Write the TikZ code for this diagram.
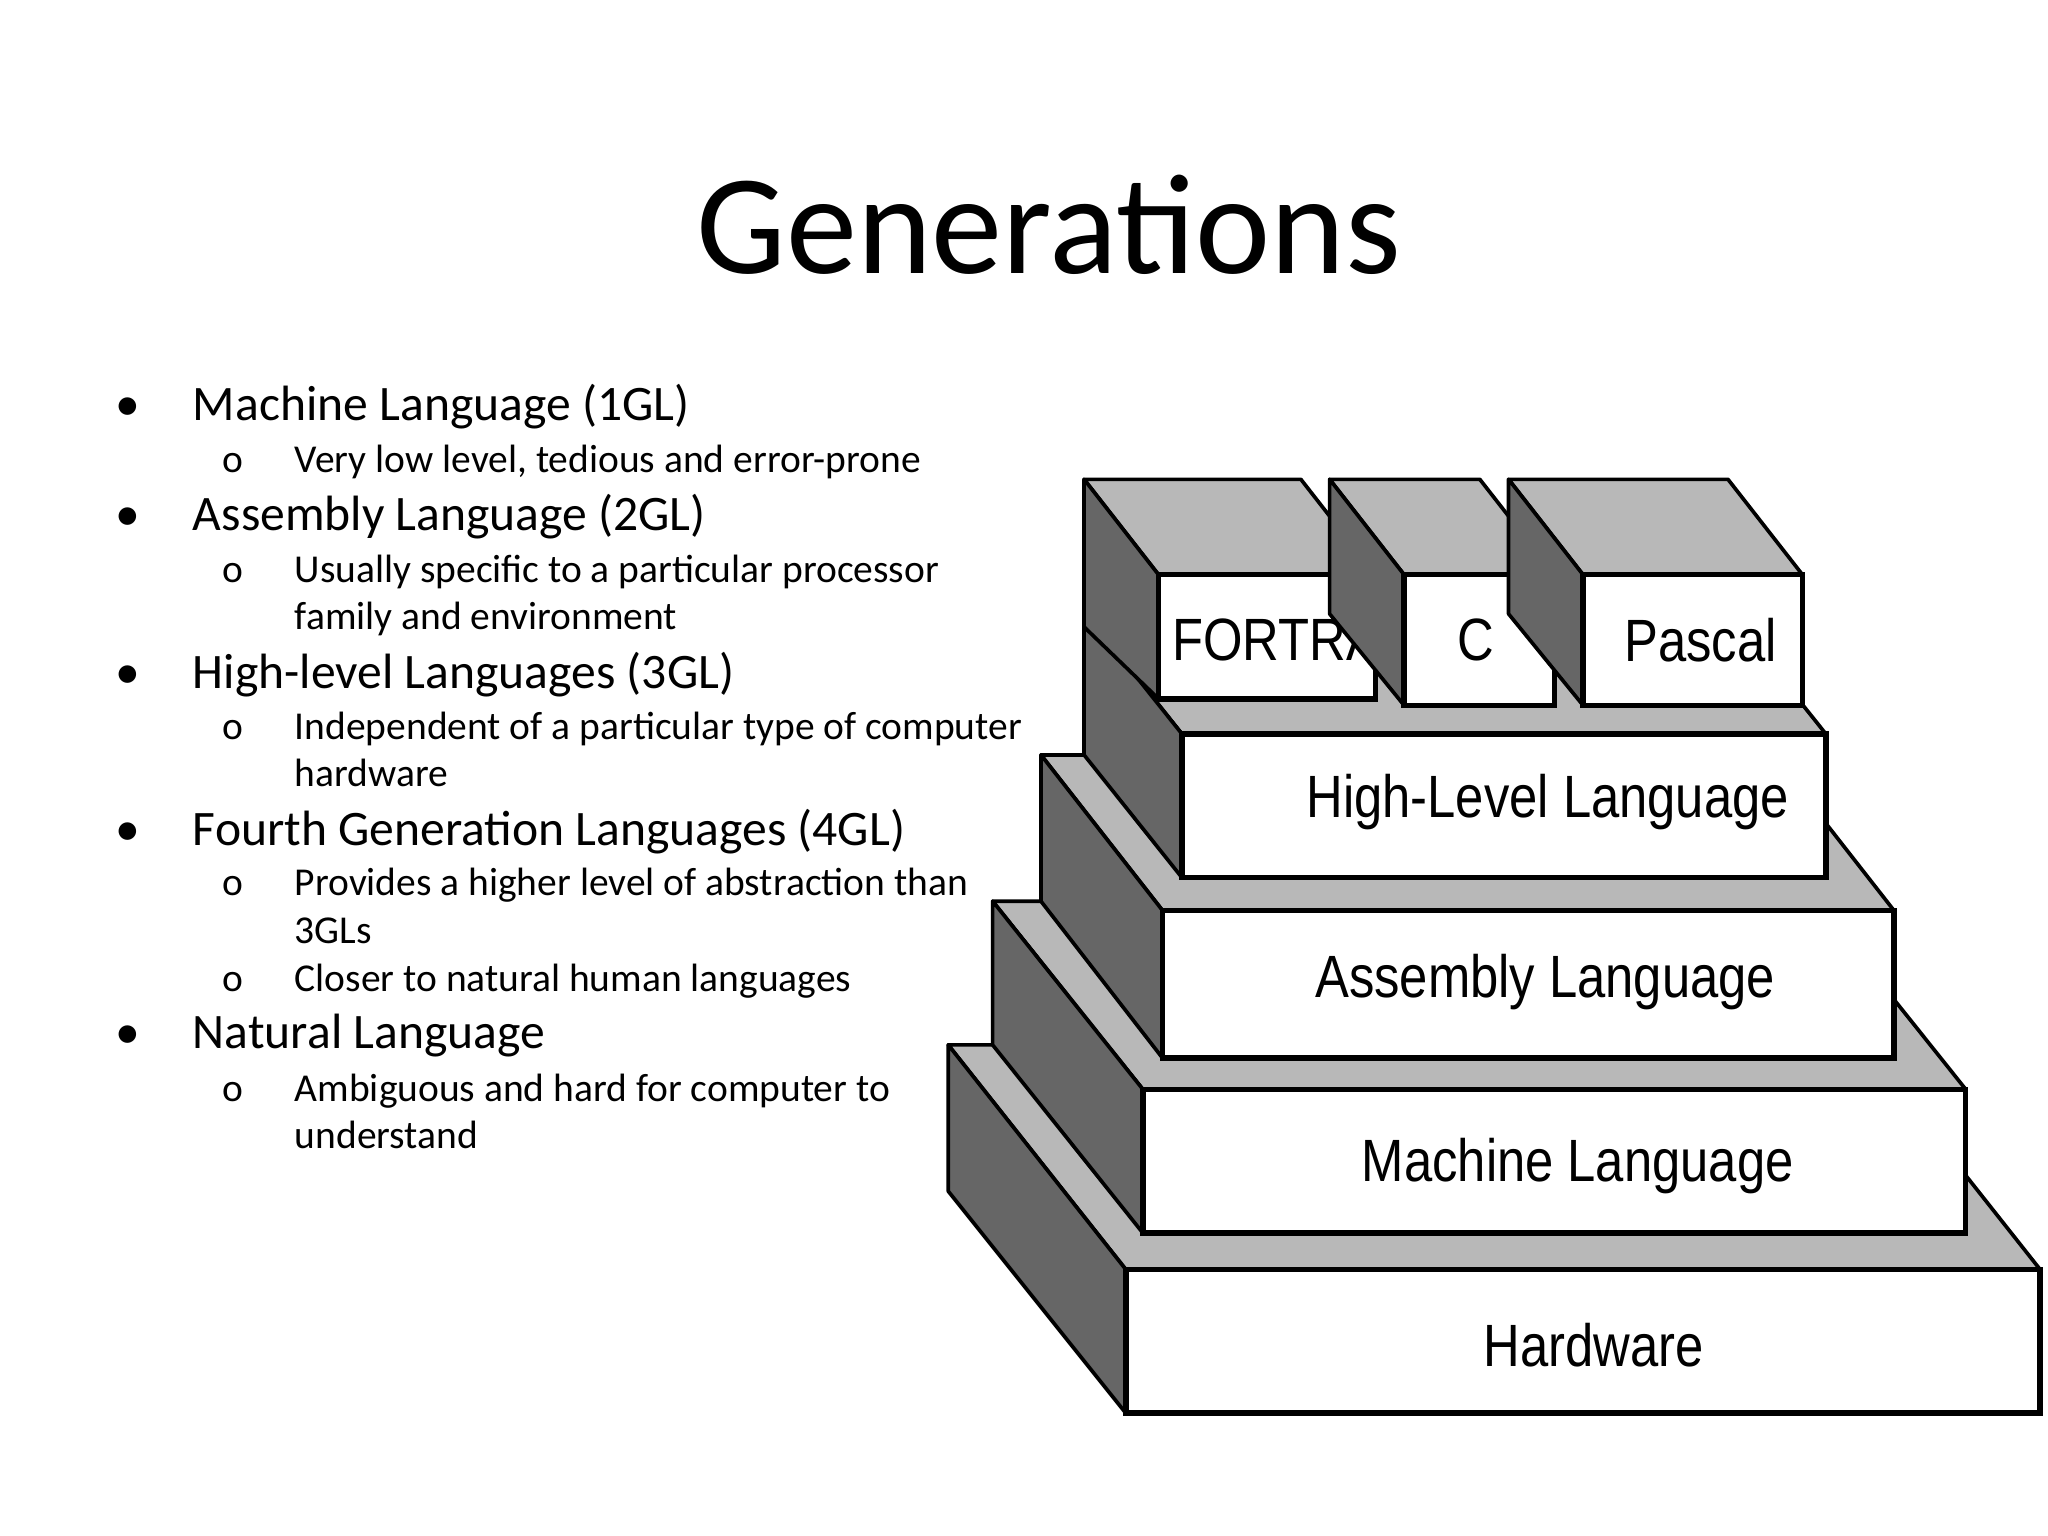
\documentclass[tikz,border=0pt]{standalone}
\usepackage{fontspec}
\setmainfont{Carlito}
\newfontfamily\dg{Liberation Sans}
\begin{document}
\begin{tikzpicture}[x=0.01cm,y=-0.01cm,
  side/.style={fill=black!60,draw=black,line width=0.8pt,line join=round},
  topf/.style={fill=black!28,draw=black,line width=0.8pt,line join=round},
  front/.style={fill=white,draw=black,line width=1.2pt},
  lbl/.style={font=\dg\fontsize{13pt}{15pt}\selectfont,xscale=0.85,inner sep=0},
  mb/.style={anchor=base west,inner sep=0,font=\fontsize{10.8pt}{13pt}\selectfont},
  sb/.style={anchor=base west,inner sep=0,font=\fontsize{8.6pt}{10pt}\selectfont}]
\useasboundingbox (0,0) rectangle (1568,1176);
\node[font=\fontsize{31pt}{36pt}\selectfont] (title) at (803,172) {Generations};
% bullets
\foreach \y/\t [count=\i] in {322/Machine Language (1GL),406/Assembly Language (2GL),527/High-level Languages (3GL),647/Fourth Generation Languages (4GL),803/Natural Language}{
  \node[mb] (b\i) at (147,\y) {\t};
  \node[mb] (bd\i) at (88,\y) {\textbullet};}
\foreach \y/\t [count=\i] in {362/{Very low level, tedious and error-prone},446/Usually specific to a particular processor,566/Independent of a particular type of computer,686/Provides a higher level of abstraction than,759/Closer to natural human languages,843/Ambiguous and hard for computer to}{
  \node[sb] (s\i) at (225,\y) {\t};
  \node[sb] (sd\i) at (170,\y) {o};}
\node[sb] (c1) at (225,482) {family and environment};
\node[sb] (c2) at (225,602) {hardware};
\node[sb] (c3) at (225,722) {3GLs};
\node[sb] (c4) at (225,879) {understand};
% Hardware
\draw[topf] (726,800) -- (1426,800) -- (1562,972) -- (862,972) -- cycle;
\draw[side] (726,800) -- (862,972) -- (862,1082) -- (726,912) -- cycle;
\draw[front] (862,972) rectangle (1562,1082);
\node[lbl] (hw) at (1220,1030) {Hardware};
% Machine
\draw[topf] (760,690) -- (1390,690) -- (1505,834) -- (875,834) -- cycle;
\draw[side] (760,690) -- (875,834) -- (875,944) -- (760,800) -- cycle;
\draw[front] (875,834) rectangle (1505,944);
\node[lbl] (ml) at (1208,893) {Machine Language};
% Assembly
\draw[topf] (797,578) -- (1357,578) -- (1450,697) -- (890,697) -- cycle;
\draw[side] (797,578) -- (890,697) -- (890,810) -- (797,690) -- cycle;
\draw[front] (890,697) rectangle (1450,810);
\node[lbl] (al) at (1183,752) {Assembly Language};
% High level
\draw[topf] (830,468) -- (1323,468) -- (1398,562) -- (905,562) -- cycle;
\draw[side] (830,468) -- (905,562) -- (905,672) -- (830,578) -- cycle;
\draw[front] (905,562) rectangle (1398,672);
\node[lbl] (hl) at (1185,614) {High-Level Language};
% FORTRAN
\draw[topf] (830,367) -- (996,367) -- (1053,440) -- (887,440) -- cycle;
\draw[side] (830,367) -- (887,440) -- (887,535) -- (830,480) -- cycle;
\draw[front] (887,440) rectangle (1053,535);
\node[lbl,anchor=west] (ft) at (897,490) {FORTRAN};
% C
\draw[topf] (1018,367) -- (1133,367) -- (1190,440) -- (1075,440) -- cycle;
\draw[side] (1018,367) -- (1075,440) -- (1075,540) -- (1018,470) -- cycle;
\draw[front] (1075,440) rectangle (1190,540);
\node[lbl] (cc) at (1130,490) {C};
% Pascal
\draw[topf] (1155,367) -- (1323,367) -- (1380,440) -- (1212,440) -- cycle;
\draw[side] (1155,367) -- (1212,440) -- (1212,540) -- (1155,470) -- cycle;
\draw[front] (1212,440) rectangle (1380,540);
\node[lbl] (pa) at (1302,490) {Pascal};
\end{tikzpicture}
\end{document}
